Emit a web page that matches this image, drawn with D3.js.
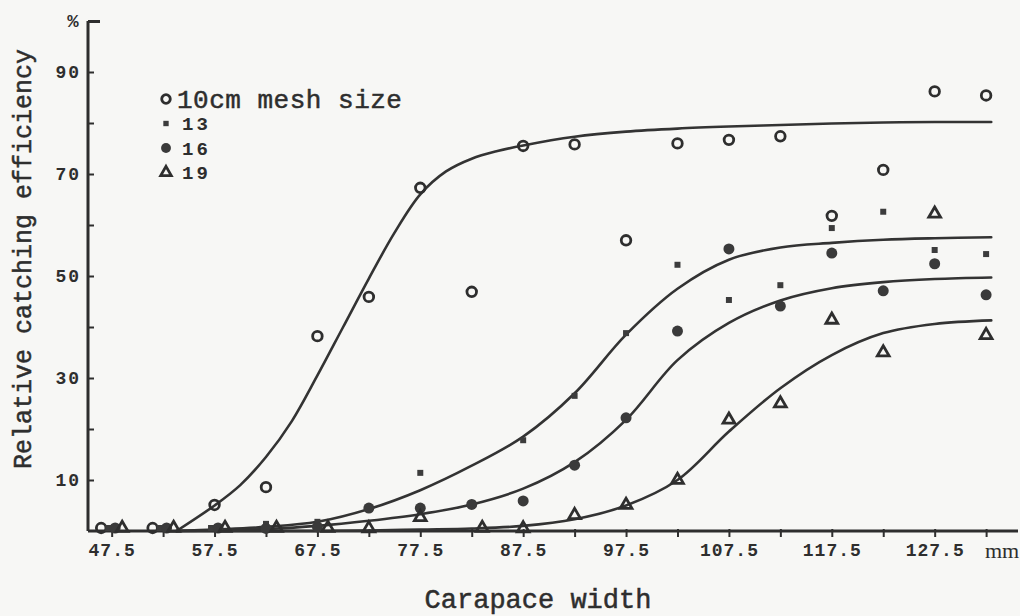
<!DOCTYPE html>
<html>
<head>
<meta charset="utf-8">
<script src="https://cdn.jsdelivr.net/npm/d3@7/dist/d3.min.js"></script>
<style>
  html, body { margin: 0; padding: 0; background: #f7f7f5; }
  svg { display: block; }
  text { fill: #2e2e2e; }
</style>
</head>
<body>
<svg id="chart" width="1020" height="616"></svg>
<script>
// Carapace width classes (mm)
const widths = [47.5, 52.5, 57.5, 62.5, 67.5, 72.5, 77.5, 82.5, 87.5, 92.5,
                97.5, 102.5, 107.5, 112.5, 117.5, 122.5, 127.5, 132.5];

// Observed relative catching efficiency (%) per mesh size
const mesh10 = [0, 0, 5.1, 8.6, 38.2, 45.9, 67.3, 46.9, 75.5, 75.8,
                57.0, 76.0, 76.7, 77.4, 61.8, 70.8, 86.2, 85.4];
const mesh13 = [0, 0, 0, 1.4, 1.8, 4.3, 11.4, 5.5, 17.8, 26.5,
                38.8, 52.2, 45.3, 48.2, 59.4, 62.6, 55.1, 54.3];
const mesh16 = [0, 0, 0, 0.5, 0.8, 4.5, 4.5, 5.2, 5.9, 12.9,
                22.2, 39.2, 55.3, 44.1, 54.5, 47.1, 52.4, 46.3];
const mesh19 = [0, 0, 0, 0, 0, 0.5, 2.7, 0, 0.5, 3.1,
                5.1, 10.0, 21.8, 25.0, 41.4, 35.0, 62.2, 38.4];

// Fitted selection curves, sampled along carapace width
const fit10X = [53.8, 57.5, 60, 62.5, 65, 67.5, 70, 72.5, 75, 77.5, 80, 82.5, 85,
                87.5, 92.5, 97.5, 102.5, 107.5, 112.5, 117.5, 122.5, 127.5, 133];
const fit10Y = [0, 5, 9, 14.5, 21.5, 30.5, 40, 49.5, 58.5, 66, 70.5, 73, 74.5,
                75.6, 77.3, 78.3, 78.9, 79.3, 79.6, 79.9, 80.1, 80.2, 80.2];
const fitX   = [53.8, 57.5, 62.5, 67.5, 72.5, 77.5, 82.5, 87.5, 92.5, 97.5,
                102.5, 107.5, 112.5, 117.5, 122.5, 127.5, 133];
const fit13Y = [0, 0.3, 0.8, 1.8, 4.3, 8, 12.8, 18.5, 27, 38.5,
                47.5, 53.2, 55.6, 56.5, 57.1, 57.4, 57.6];
const fit16Y = [0, 0.1, 0.4, 1, 2, 3.3, 5.2, 8.3, 13.5, 21.8,
                33.5, 40.8, 45.2, 47.6, 48.8, 49.4, 49.7];
const fit19Y = [0, 0, 0, 0, 0.1, 0.3, 0.5, 1, 2.3, 5,
                10, 19.5, 28, 34.5, 38.8, 40.6, 41.3];

const legendLabels = ["10cm mesh size", "13", "16", "19"];
const xTickValues = [47.5, 52.5, 57.5, 62.5, 67.5, 72.5, 77.5, 82.5, 87.5, 92.5,
                     97.5, 102.5, 107.5, 112.5, 117.5, 122.5, 127.5, 132.5];
const xLabelValues = [47.5, 57.5, 67.5, 77.5, 87.5, 97.5, 107.5, 117.5, 127.5];
const yTickValues = [10, 20, 30, 40, 50, 60, 70, 80, 90, 100];
const yLabelValues = [10, 30, 50, 70, 90];

const ink = "#2e2e2e";
const mono = "'Liberation Mono', 'Courier New', monospace";

const svg = d3.select("#chart");
const x = d3.scaleLinear().domain([45.2, 135.6]).range([88, 1018]);
const y = d3.scaleLinear().domain([0, 100]).range([531, 21]);

// ---- axes ----
const xAxis = d3.axisBottom(x)
  .tickValues(xTickValues)
  .tickSize(6)
  .tickFormat(d => xLabelValues.includes(d) ? d3.format(".1f")(d) : "");
const gx = svg.append("g").attr("transform", `translate(0,${y(0)})`).call(xAxis);
gx.select(".domain").attr("d", `M${x.range()[0]},0H${x.range()[1]}`)
  .attr("stroke", ink).attr("stroke-width", 3);
gx.selectAll(".tick line").attr("stroke", ink).attr("stroke-width", 2).attr("y1", -2);
gx.selectAll(".tick text")
  .attr("y", 12).attr("dy", "0.71em")
  .style("font-family", mono).style("font-size", "18px").style("font-weight", "bold")
  .style("letter-spacing", "1px").attr("fill", ink);

const yAxis = d3.axisRight(y)
  .tickValues(yTickValues)
  .tickSize(6)
  .tickFormat("");
const gy = svg.append("g").attr("transform", `translate(${x.range()[0]},0)`).call(yAxis);
gy.select(".domain").attr("d", `M0,${y(0)}V${y(100)}`)
  .attr("stroke", ink).attr("stroke-width", 3);
gy.selectAll(".tick line").attr("stroke", ink).attr("stroke-width", 2);
gy.selectAll(".tick").filter(d => d === 100).select("line")
  .attr("x2", 12).attr("stroke-width", 3);

svg.append("g").selectAll("text").data(yLabelValues).join("text")
  .attr("x", 81).attr("y", d => y(d)).attr("dy", "0.35em")
  .attr("text-anchor", "end")
  .style("font-family", mono).style("font-size", "18px").style("font-weight", "bold")
  .style("letter-spacing", "2px")
  .text(d => d);

svg.append("text").attr("x", 73).attr("y", 27).attr("text-anchor", "middle")
  .style("font-family", mono).style("font-size", "19px").style("font-weight", "bold")
  .text("%");

svg.append("text").attr("x", 985).attr("y", 558)
  .style("font-family", "'Liberation Serif', serif").style("font-size", "22px")
  .text("mm");

const titleStyle = sel => sel.style("font-family", mono)
  .attr("stroke", ink).attr("stroke-width", 0.5);

svg.append("text").attr("x", 538).attr("y", 608).attr("text-anchor", "middle")
  .style("font-size", "27px").call(titleStyle)
  .text("Carapace width");

svg.append("text")
  .attr("transform", "translate(31,259) rotate(-90)")
  .attr("text-anchor", "middle")
  .style("font-size", "25px").call(titleStyle)
  .text("Relative catching efficiency");

// ---- fitted curves ----
const line = d3.line().x(d => x(d[0])).y(d => y(d[1])).curve(d3.curveCatmullRom.alpha(0.5));
const fits = [
  d3.zip(fit10X, fit10Y),
  d3.zip(fitX, fit13Y),
  d3.zip(fitX, fit16Y),
  d3.zip(fitX, fit19Y)
];
svg.append("g").selectAll("path").data(fits).join("path")
  .attr("d", line)
  .attr("fill", "none").attr("stroke", "#333").attr("stroke-width", 2.6)
  .attr("stroke-linecap", "round");

// ---- observed points ----
const markerStyles = [
  { type: d3.symbolCircle,   size: 72, fill: "none", stroke: ink, sw: 2.8 },
  { type: d3.symbolSquare,   size: 36, fill: "#3c3c3c", stroke: "none", sw: 0 },
  { type: d3.symbolCircle,   size: 95, fill: "#3a3a3a", stroke: "none", sw: 0 },
  { type: d3.symbolTriangle, size: 60, fill: "none", stroke: ink, sw: 2.8 }
];
const seriesValues = [mesh10, mesh13, mesh16, mesh19];

const points = [];
seriesValues.forEach((vals, s) => {
  vals.forEach((v, i) => points.push({ s, w: widths[i], v }));
});
// markers sitting on zero are spread sideways so the overlapping symbols stay visible
const zeroOffset = s => (s - 1.5) * 7;

svg.append("g").selectAll("path").data(points).join("path")
  .attr("transform", d => `translate(${x(d.w) + (d.v === 0 ? zeroOffset(d.s) : 0)},${y(d.v) - (d.v === 0 ? 3 : 0)})`)
  .attr("d", d => d3.symbol().type(markerStyles[d.s].type).size(markerStyles[d.s].size)())
  .attr("fill", d => markerStyles[d.s].fill)
  .attr("stroke", d => markerStyles[d.s].stroke)
  .attr("stroke-width", d => markerStyles[d.s].sw);

// ---- legend ----
const legend = svg.append("g");
const legendRows = legendLabels.map((label, i) => ({ label, i }));
legend.selectAll("path").data(legendRows).join("path")
  .attr("transform", d => `translate(166,${99 + d.i * 24.5})`)
  .attr("d", d => d3.symbol().type(markerStyles[d.i].type).size(markerStyles[d.i].size * 0.8)())
  .attr("fill", d => markerStyles[d.i].fill)
  .attr("stroke", d => markerStyles[d.i].stroke)
  .attr("stroke-width", d => markerStyles[d.i].sw);
legend.selectAll("text").data(legendRows).join("text")
  .attr("x", d => d.i === 0 ? 177 : 182)
  .attr("y", d => 99 + d.i * 24.5).attr("dy", "0.35em")
  .style("font-family", mono)
  .style("font-size", d => d.i === 0 ? "26px" : "19px")
  .style("font-weight", d => d.i === 0 ? "normal" : "bold")
  .style("letter-spacing", d => d.i === 0 ? "0.5px" : "3px")
  .attr("stroke", d => d.i === 0 ? ink : "none")
  .attr("stroke-width", 0.5)
  .text(d => d.label);
</script>
</body>
</html>
